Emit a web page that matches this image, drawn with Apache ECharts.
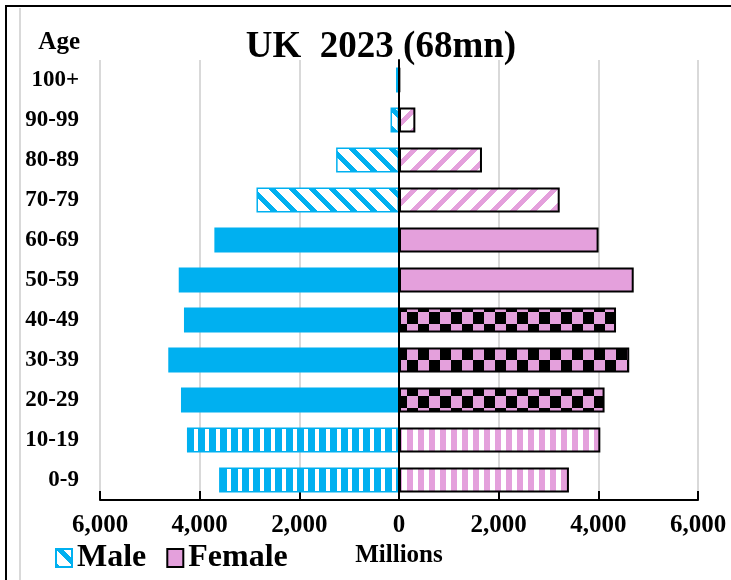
<!DOCTYPE html>
<html>
<head>
<meta charset="utf-8">
<script src="https://cdn.jsdelivr.net/npm/echarts@6/dist/echarts.min.js"></script>
<style>
html,body{margin:0;padding:0;background:#fff;}
#chart{width:731px;height:580px;}
</style>
</head>
<body>
<div id="chart"></div>
<script>
// ---- data (thousands, shown as "Millions" in the original) ----
var ageGroups = ['0-9','10-19','20-29','30-39','40-49','50-59','60-69','70-79','80-89','90-99','100+'];
var maleValues = [3610, 4255, 4375, 4630, 4315, 4420, 3705, 2860, 1262, 170, 60];
var femaleValues = [3410, 4040, 4125, 4620, 4355, 4710, 4005, 3225, 1665, 328, 15];
var xTicks = [-6000, -4000, -2000, 0, 2000, 4000, 6000];
var titleText = 'UK  2023 (68mn)';

// ---- styles ----
var BLUE = '#00B0F0', PINK = '#E4A0DC';
var SERIF = '"Liberation Serif","Times New Roman",serif';
var patternKind = ['v','v','c','c','c','s','s','d','d','d','s'];

function makeCanvas(w, h, fn) {
  var c = document.createElement('canvas');
  c.width = w; c.height = h;
  var ctx = c.getContext('2d');
  var img = ctx.createImageData(w, h);
  for (var y = 0; y < h; y++) for (var x = 0; x < w; x++) {
    var col = fn(x, y);
    var i = (y * w + x) * 4;
    img.data[i] = col[0]; img.data[i+1] = col[1]; img.data[i+2] = col[2]; img.data[i+3] = 255;
  }
  ctx.putImageData(img, 0, 0);
  return c;
}
var cB = [0,176,240], cP = [228,160,220], cW = [255,255,255], cK = [0,0,0];
var maleV = {image: makeCanvas(11, 11, function(x){ return x < 7 ? cB : cW; }), repeat: 'repeat'};
var femV = {image: makeCanvas(11, 11, function(x){ return x < 6 ? cP : cW; }), repeat: 'repeat'};
var femC = {image: makeCanvas(22, 24, function(x,y){ return ((Math.floor(x/11) + Math.floor(y/12)) % 2) ? cK : cP; }), repeat: 'repeat'};
var maleD = {image: makeCanvas(20, 20, function(x,y){ return (((x - y) % 20 + 20) % 20) < 7 ? cB : cW; }), repeat: 'repeat'};
var femD = {image: makeCanvas(20, 20, function(x,y){ return ((x + y) % 20) < 7 ? cP : cW; }), repeat: 'repeat'};

function maleStyle(k) {
  if (k === 'v') return {color: maleV, borderColor: BLUE, borderWidth: 1.5};
  if (k === 'd') return {color: maleD, borderColor: BLUE, borderWidth: 1.5};
  return {color: BLUE, borderWidth: 0};
}
function femStyle(k) {
  var base = {borderColor: '#000', borderWidth: 2};
  if (k === 'v') base.color = femV;
  else if (k === 'c') base.color = femC;
  else if (k === 'd') base.color = femD;
  else base.color = PINK;
  return base;
}

var maleData = maleValues.map(function(v, i){ return {value: -v, itemStyle: maleStyle(patternKind[i])}; });
var femData = femaleValues.map(function(v, i){ return {value: v, itemStyle: femStyle(patternKind[i])}; });

var chart = echarts.init(document.getElementById('chart'), null, {renderer: 'canvas'});
chart.setOption({
  animation: false,
  backgroundColor: '#fff',
  grid: {left: 100, right: 33, top: 60, bottom: 80},
  xAxis: {
    type: 'value', min: xTicks[0], max: xTicks[xTicks.length - 1], interval: 2000,
    name: 'Millions', nameLocation: 'middle', nameGap: 38,
    nameTextStyle: {fontFamily: SERIF, fontWeight: 'bold', fontSize: 25, color: '#000'},
    axisLine: {show: true, lineStyle: {color: '#000', width: 2}},
    axisTick: {show: true, inside: true, length: 9, lineStyle: {color: '#000', width: 2}},
    axisLabel: {margin: 13, fontFamily: SERIF, fontWeight: 'bold', fontSize: 25, color: '#000',
      formatter: function(v){ return Math.abs(v).toLocaleString('en-US'); }},
    splitLine: {show: true, lineStyle: {color: '#D9D9D9', width: 2}}
  },
  yAxis: [{
    type: 'category', data: ageGroups, position: 'left',
    axisLine: {show: false, onZero: false}, axisTick: {show: false},
    axisLabel: {margin: 21, fontFamily: SERIF, fontWeight: 'bold', fontSize: 23, color: '#000'}
  }, {
    type: 'category', data: ageGroups, z: 10,
    axisLine: {show: true, onZero: true, lineStyle: {color: '#000', width: 2}},
    axisTick: {show: false}, axisLabel: {show: false}, splitLine: {show: false}
  }],
  legend: {
    data: ['Male', 'Female'], left: 50, top: 537, itemWidth: 16, itemHeight: 18, itemGap: 20,
    icon: 'rect',
    textStyle: {fontFamily: SERIF, fontWeight: 'bold', fontSize: 32, color: '#000'}
  },
  series: [{
    name: 'Male', type: 'bar', data: maleData, barWidth: 25, barGap: '-100%',
    itemStyle: {color: maleD, borderColor: BLUE, borderWidth: 1.5}
  }, {
    name: 'Female', type: 'bar', data: femData, barWidth: 25,
    itemStyle: {color: PINK, borderColor: '#000', borderWidth: 2}
  }],
  graphic: [
    {type: 'line', shape: {x1: 6, y1: 5, x2: 6, y2: 580}, style: {stroke: '#000', lineWidth: 2}},
    {type: 'line', shape: {x1: 5, y1: 6, x2: 731, y2: 6}, style: {stroke: '#000', lineWidth: 2}},
    {type: 'line', shape: {x1: 20, y1: 8, x2: 20, y2: 580}, style: {stroke: '#D9D9D9', lineWidth: 2}},
    {type: 'text', x: 80, y: 43, style: {text: 'Age', textAlign: 'right', textVerticalAlign: 'middle',
      font: 'bold 25px ' + SERIF, fill: '#000'}},
    {type: 'text', x: 381, y: 47, style: {text: titleText, textAlign: 'center', textVerticalAlign: 'middle',
      font: 'bold 37px ' + SERIF, fill: '#000'}}
  ]
});
</script>
</body>
</html>
